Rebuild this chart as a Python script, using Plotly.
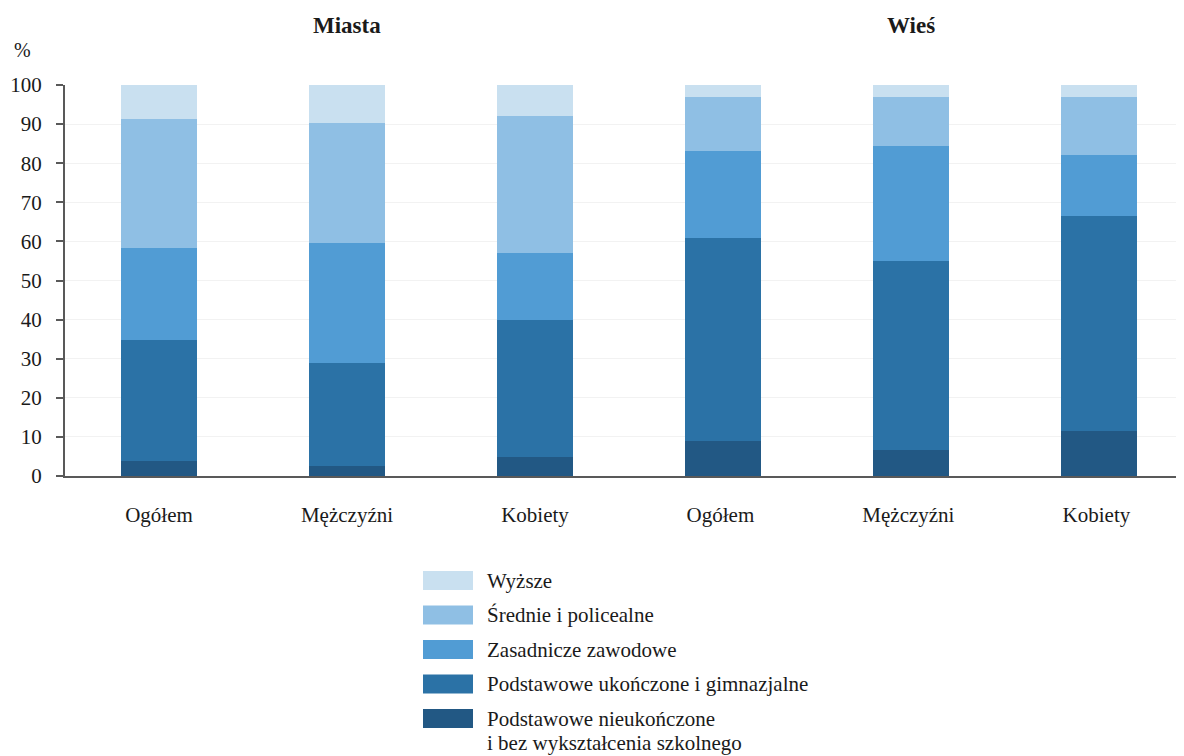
import plotly.graph_objects as go

# --- data ---
categories = ["Ogółem", "Mężczyźni", "Kobiety", "Ogółem ", "Mężczyźni ", "Kobiety "]
groups = ["Miasta", "Wieś"]

series_names = [
    "Podstawowe nieukończone<br>i bez wykształcenia szkolnego",
    "Podstawowe ukończone i gimnazjalne",
    "Zasadnicze zawodowe",
    "Średnie i policealne",
    "Wyższe",
]
nieukonczone = [3.8, 2.5, 4.8, 8.9, 6.6, 11.4]
ukonczone = [30.9, 26.3, 35.0, 51.9, 48.3, 55.1]
zasadnicze = [23.6, 30.8, 17.2, 22.3, 29.5, 15.6]
srednie = [33.0, 30.7, 35.1, 13.8, 12.5, 14.8]
wyzsze = [8.7, 9.7, 7.9, 3.1, 3.1, 3.1]
series_values = [nieukonczone, ukonczone, zasadnicze, srednie, wyzsze]

colors = ["#225884", "#2b72a6", "#519cd4", "#8fbfe4", "#c9e0f0"]

FONT = "Liberation Serif, Times New Roman, serif"

# page is offset by the 8px body margin
W, H = 1176, 748
L, T, B = 57, 77, 280
PW, PH = W - L, H - T - B


def px(x):
    return (x - 8 - L) / PW


def py(y):
    return 1 - (y - 8 - T) / PH


fig = go.Figure()
for name, vals, col in zip(series_names, series_values, colors):
    fig.add_trace(go.Bar(
        x=categories,
        y=vals,
        name=name,
        marker_color=col,
        marker_line_width=0,
        showlegend=False,
    ))

fig.update_layout(
    barmode="stack",
    bargap=0.596,
    width=W,
    height=H,
    margin=dict(l=L, r=0, t=T, b=B),
    plot_bgcolor="white",
    paper_bgcolor="white",
    font=dict(family=FONT, size=21, color="#1a1a1a"),
)
fig.update_xaxes(
    range=[-0.5, 5.452],
    showline=True, linecolor="#595959", linewidth=2,
    ticks="", ticklabelstandoff=19,
    tickfont=dict(size=21),
)
fig.update_yaxes(
    range=[0, 100],
    dtick=10,
    showline=True, linecolor="#595959", linewidth=2,
    ticks="outside", ticklen=7, tickcolor="#595959", tickwidth=1.5,
    showgrid=True, gridcolor="#f2f2f2", gridwidth=1,
    zeroline=False,
    tickfont=dict(size=21),
    ticklabelstandoff=10,
)

# group titles over the middle bar of each group
for g, cat in zip(groups, [categories[1], categories[4]]):
    fig.add_annotation(
        x=cat, xref="x", y=py(26), yref="paper", yanchor="middle",
        text=f"<b>{g}</b>", showarrow=False, font=dict(size=23, family=FONT),
    )

fig.add_annotation(
    x=px(22), xref="paper", xanchor="center",
    y=py(50), yref="paper", yanchor="middle",
    text="%", showarrow=False, font=dict(size=20, family=FONT),
)

# legend drawn as wide swatches, top item = Wyższe
leg_left, leg_top, row = 423, 571, 34.5
for i, (name, col) in enumerate(zip(series_names[::-1], colors[::-1])):
    y0 = leg_top + i * row
    fig.add_shape(
        type="rect", xref="paper", yref="paper",
        x0=px(leg_left), x1=px(leg_left + 50),
        y0=py(y0), y1=py(y0 + 19),
        fillcolor=col, line_width=0,
    )
    # one annotation per text line so the spacing can follow the reference
    for k, line in enumerate(name.split("<br>")):
        fig.add_annotation(
            x=px(485), xref="paper", xanchor="left",
            y=py(y0 + 9.5 + k * 24), yref="paper", yanchor="middle",
            text=line, showarrow=False, align="left",
            font=dict(size=21, family=FONT),
        )

fig.write_html("out.html")
